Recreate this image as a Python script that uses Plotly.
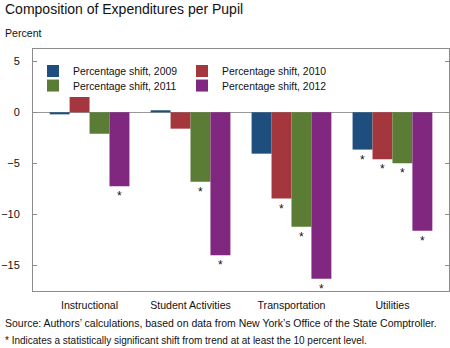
import plotly.graph_objects as go

categories = ["Instructional", "Student Activities", "Transportation", "Utilities"]
series_names = ["Percentage shift, 2009", "Percentage shift, 2010",
                "Percentage shift, 2011", "Percentage shift, 2012"]
shift_2009 = [-0.2, 0.2, -4.05, -3.65]
shift_2010 = [1.5, -1.6, -8.45, -4.6]
shift_2011 = [-2.1, -6.8, -11.2, -5.0]
shift_2012 = [-7.25, -14.0, -16.3, -11.6]
# significance flags (asterisks)
sig_2009 = [False, False, False, True]
sig_2010 = [False, False, True, True]
sig_2011 = [False, True, True, True]
sig_2012 = [True, True, True, True]
colors = ["#1d4e7d", "#a3373d", "#5a7c35", "#80287f"]
y_ticks = [5, 0, -5, -10, -15]

FONT = "Liberation Sans, Arial, sans-serif"
values = [shift_2009, shift_2010, shift_2011, shift_2012]
sigs = [sig_2009, sig_2010, sig_2011, sig_2012]
legends = ["legend", "legend", "legend2", "legend2"]

fig = go.Figure()
for name, vals, sig, col, lg in zip(series_names, values, sigs, colors, legends):
    fig.add_trace(go.Bar(
        x=categories, y=vals, name=name, marker_color=col, marker_line_width=0,
        text=["*" if s else "" for s in sig], textposition="outside",
        textfont=dict(size=12, color="#111", family=FONT),
        cliponaxis=False, legend=lg,
    ))

axis_col = "#8c8c8c"
fig.update_layout(
    width=450, height=348,
    margin=dict(l=33, r=1, t=49, b=57),
    paper_bgcolor="white", plot_bgcolor="white",
    barmode="group", bargap=0.21, bargroupgap=0,
    font=dict(family=FONT, size=11, color="#111"),
    xaxis=dict(range=[-0.56, 3.56], showline=True, mirror=True, linecolor=axis_col,
               linewidth=1, ticks="", showgrid=False, tickfont=dict(size=10.6),
               ticklabelstandoff=4),
    yaxis=dict(range=[-17.5, 6.2], tickvals=y_ticks, showline=True, mirror="ticks",
               linecolor=axis_col, linewidth=1, ticks="inside", ticklen=4,
               tickcolor=axis_col, showgrid=False, zeroline=True, zerolinecolor="#999",
               zerolinewidth=1, tickfont=dict(size=11), ticklabelstandoff=10),
    legend=dict(orientation="h", x=0.0, xanchor="left", y=0.909, yanchor="middle",
                entrywidth=104, font=dict(size=10.4), bgcolor="rgba(0,0,0,0)",
                traceorder="normal"),
    legend2=dict(orientation="h", x=0.0, xanchor="left", y=0.849, yanchor="middle",
                 entrywidth=104, font=dict(size=10.4), bgcolor="rgba(0,0,0,0)",
                 traceorder="normal"),
    showlegend=True,
)

fig.add_annotation(text="Composition of Expenditures per Pupil", xref="paper", yref="paper",
                   x=-0.0721, y=1.167, xanchor="left", yanchor="middle", showarrow=False,
                   font=dict(size=14, color="#111"))
fig.add_annotation(text="Percent", xref="paper", yref="paper",
                   x=-0.0721, y=1.066, xanchor="left", yanchor="middle", showarrow=False,
                   font=dict(size=10.6, color="#111"))
fig.add_annotation(text="Source: Authors\u2019 calculations, based on data from New York\u2019s Office of the State Comptroller.",
                   xref="paper", yref="paper", x=-0.0721, y=-0.132, xanchor="left",
                   yanchor="middle", showarrow=False, font=dict(size=10.5, color="#111"))
fig.add_annotation(text="* Indicates a statistically significant shift from trend at at least the 10 percent level.",
                   xref="paper", yref="paper", x=-0.0721, y=-0.2025, xanchor="left",
                   yanchor="middle", showarrow=False, font=dict(size=10, color="#111"))

fig.write_html("out.html")
